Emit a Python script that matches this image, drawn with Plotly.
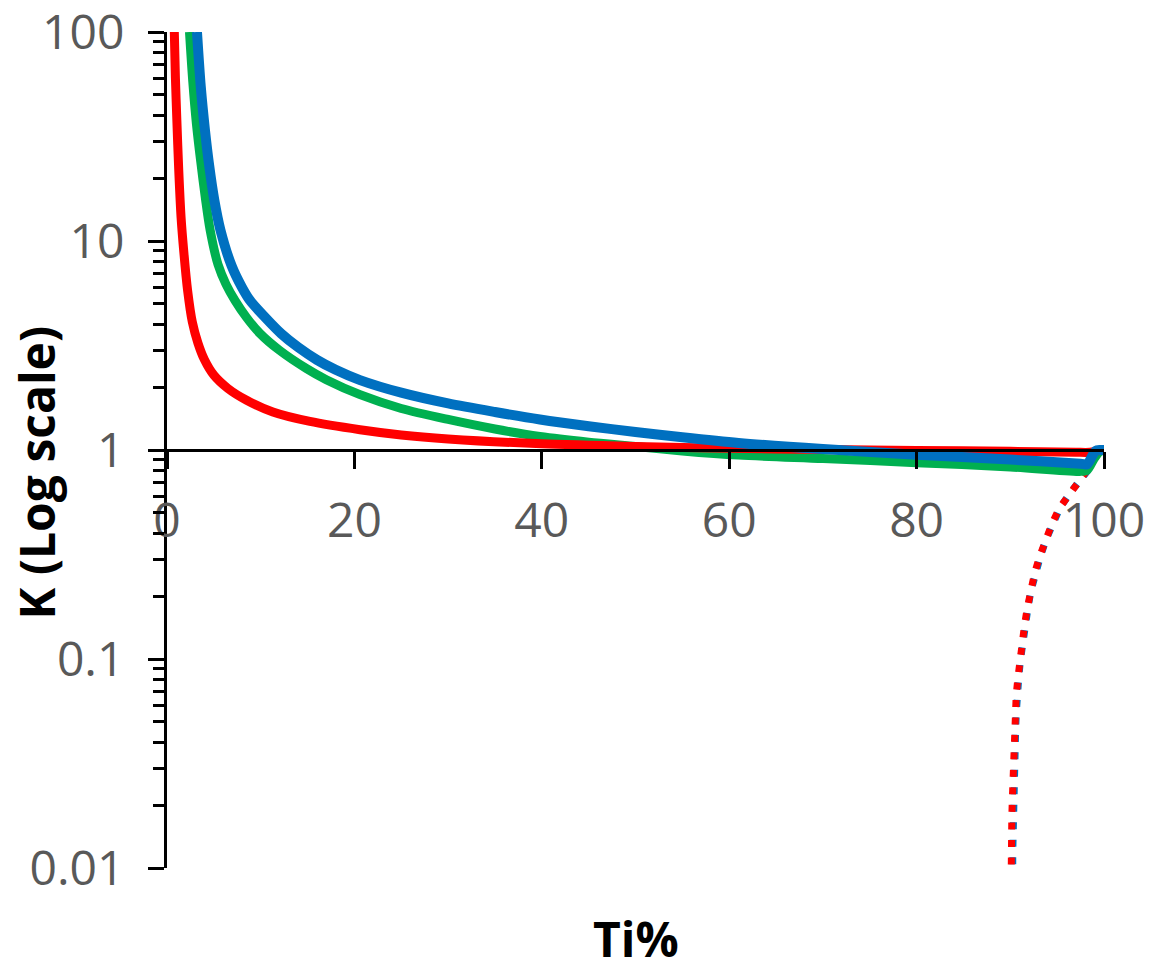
import plotly.graph_objects as go

# ---- data ----
red_ti = [0.78, 0.9, 1.05, 1.25, 1.5, 1.8, 2.2, 2.7, 3.3, 4.0, 5.0, 6.5, 8.5, 11.3, 15.25, 20.6, 25, 30, 40, 50, 60, 70, 80, 90, 97, 98.5, 99.3, 100]
red_k = [100, 60, 38, 22, 13, 8.8, 5.8, 4.1, 3.25, 2.7, 2.28, 1.97, 1.73, 1.52, 1.37, 1.25, 1.18, 1.13, 1.07, 1.04, 1.02, 1.005, 0.995, 0.985, 0.975, 0.975, 0.99, 1.0]

green_ti = [2.4, 2.75, 3.15, 3.6, 4.1, 4.6, 5.45, 6.3, 7.25, 8.5, 9.9, 12, 14.9, 17, 20.6, 25, 30, 35, 39.8, 45, 50, 55, 61, 70, 80, 90, 97.4, 98.2, 98.9, 99.5, 100]
green_k = [100, 58, 36, 24, 16, 11.3, 7.7, 6.2, 5.2, 4.3, 3.62, 3.0, 2.45, 2.17, 1.84, 1.58, 1.40, 1.26, 1.16, 1.09, 1.04, 0.99, 0.945, 0.91, 0.87, 0.83, 0.79, 0.80, 0.90, 0.98, 1.0]

blue_ti = [3.2, 3.6, 4.05, 4.5, 5.05, 5.7, 6.9, 8.0, 8.85, 10.5, 12.2, 14, 16, 18, 20.6, 25, 30, 35, 39.8, 45, 50, 55, 61, 70, 80, 90, 97.5, 98.2, 98.7, 99.1, 99.6, 100]
blue_k = [100, 55, 34, 23, 15.7, 11.3, 7.6, 6.0, 5.2, 4.3, 3.6, 3.1, 2.7, 2.42, 2.16, 1.88, 1.67, 1.52, 1.40, 1.30, 1.22, 1.15, 1.08, 1.01, 0.95, 0.90, 0.86, 0.855, 0.93, 0.99, 1.0, 1.0]

red_dot_ti = [98.2, 97.46, 96.32, 95.25, 94.45, 93.74, 93.12, 92.59, 92.13, 91.81, 91.52, 91.23, 90.99, 90.81, 90.63, 90.53, 90.45, 90.38, 90.31, 90.27, 90.21, 90.16, 90.13, 90.1, 90.1]
red_dot_k = [0.80, 0.724, 0.625, 0.528, 0.445, 0.371, 0.308, 0.258, 0.2115, 0.175, 0.1455, 0.119, 0.0978, 0.081, 0.0673, 0.0552, 0.0457, 0.0375, 0.0308, 0.0255, 0.0209, 0.0173, 0.0142, 0.0118, 0.0098]

blue_dot_ti = [98.3, 97.5, 96.4, 95.3, 94.5, 93.8, 93.2, 92.65, 92.2, 91.88, 91.6, 91.3, 91.07, 90.9, 90.73, 90.64, 90.57, 90.5, 90.44, 90.4, 90.35, 90.31, 90.28, 90.26, 90.26]
blue_dot_k = red_dot_k

y_tickvals = [0.01, 0.1, 1, 10, 100]
y_ticktext = ["0.01", "0.1", "1", "10", "100"]
y_minorvals = [m * d for d in [0.01, 0.1, 1, 10] for m in range(2, 10)]
x_tickvals = [0, 20, 40, 60, 80, 100]
x_ticktext = ["0", "20", "40", "60", "80", "100"]

RED = "#FF0000"
GREEN = "#00B050"
BLUE = "#0070C0"
FONT = "Open Sans"
TICKCOL = "#595959"

fig = go.Figure()
fig.add_trace(go.Scatter(x=blue_dot_ti, y=blue_dot_k, mode="lines",
                         line=dict(color=BLUE, width=7, dash="7px,10.5px"), hoverinfo="skip"))
fig.add_trace(go.Scatter(x=red_dot_ti, y=red_dot_k, mode="lines",
                         line=dict(color=RED, width=7, dash="7px,10.5px"), hoverinfo="skip"))
fig.add_trace(go.Scatter(x=green_ti, y=green_k, mode="lines",
                         line=dict(color=GREEN, width=9, shape="spline", smoothing=0.8)))
fig.add_trace(go.Scatter(x=red_ti, y=red_k, mode="lines",
                         line=dict(color=RED, width=9, shape="spline", smoothing=0.8)))
fig.add_trace(go.Scatter(x=blue_ti, y=blue_k, mode="lines",
                         line=dict(color=BLUE, width=10, shape="spline", smoothing=0.8)))

fig.update_layout(
    width=1155, height=971,
    margin=dict(l=167, r=51, t=32, b=103),
    paper_bgcolor="white", plot_bgcolor="white",
    showlegend=False,
    font=dict(family=FONT, size=48, color=TICKCOL),
    xaxis=dict(
        range=[0, 100], anchor="free", position=0.5,
        showline=True, linecolor="black", linewidth=3,
        ticks="outside", ticklen=17, tickwidth=3, tickcolor="black",
        tickvals=x_tickvals, ticktext=x_ticktext,
        showgrid=False, zeroline=False,
        tickfont=dict(family=FONT, size=48, color=TICKCOL),
        ticklabelstandoff=10,
        ticklabeloverflow="allow",
        automargin=False,
    ),
    yaxis=dict(
        type="log", range=[-2, 2],
        showline=True, linecolor="black", linewidth=3,
        ticks="outside", ticklen=16, tickwidth=3, tickcolor="black",
        tickvals=y_tickvals, ticktext=y_ticktext,
        showgrid=False, zeroline=False,
        tickfont=dict(family=FONT, size=48, color=TICKCOL),
        ticklabelstandoff=14,
        ticklabeloverflow="allow",
        automargin=False,
        minor=dict(tickvals=y_minorvals, ticks="outside", ticklen=11, tickwidth=3,
                   tickcolor="black", showgrid=False),
    ),
    annotations=[
        dict(text="<b>K (Log scale)</b>", xref="paper", yref="paper",
             x=-0.1387, y=0.473, textangle=-90, showarrow=False,
             xanchor="center", yanchor="middle",
             font=dict(family=FONT, size=48, color="black")),
        dict(text="<b>Ti%</b>", xref="paper", yref="paper",
             x=0.5, y=-0.084, showarrow=False,
             xanchor="center", yanchor="middle",
             font=dict(family=FONT, size=48, color="black")),
    ],
)

fig.write_html("out.html")
